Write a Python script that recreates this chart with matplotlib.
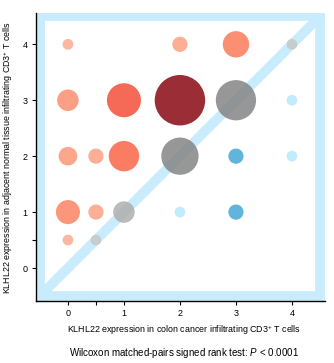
import matplotlib
matplotlib.use('Agg')
import matplotlib.pyplot as plt
from matplotlib.colors import to_rgb

# paired scores per patient: cancer-infiltrating vs adjacent normal tissue
cancer = [0, 2, 3, 4,
          0, 1, 2, 3, 4,
          0, 0.5, 1, 2, 3, 4,
          0, 0.5, 1, 2, 3,
          0, 0.5]
normal = [4, 4, 4, 4,
          3, 3, 3, 3, 3,
          2, 2, 2, 2, 2, 2,
          1, 1, 1, 1, 1,
          0.5, 0.5]
counts = [1, 2, 6, 1,
          4, 10, 22, 14, 1,
          3, 2, 8, 12, 2, 1,
          5, 2, 4, 1, 2,
          1, 1]

xticks = [0, 0.5, 1, 2, 3, 4]
xticklabels = ['0', '', '1', '2', '3', '4']
yticks = [0, 0.5, 1, 2, 3, 4]
yticklabels = ['0', '', '1', '2', '3', '4']

FONT = ['Liberation Sans', 'DejaVu Sans']
plt.rcParams['font.family'] = FONT
plt.rcParams['mathtext.fontset'] = 'custom'
plt.rcParams['mathtext.rm'] = 'Liberation Sans'
plt.rcParams['mathtext.it'] = 'Liberation Sans:italic'

frame_blue = '#c8ecfb'
blue_lo, blue_hi = to_rgb('#b7e9fc'), to_rgb('#45a7d6')


def point_colour(x, y, n):
    # higher in normal tissue -> reds, equal -> greys, lower -> blues
    if y > x:
        return plt.cm.Reds(0.27 + 0.03 * n)
    if y == x:
        return plt.cm.Greys(min(0.3 + 0.03 * n, 0.56))
    t = min((n - 1) / 1.0, 1.0)
    return tuple(a + (b - a) * t for a, b in zip(blue_lo, blue_hi))


fig = plt.figure(figsize=(3.34, 3.63), dpi=100)
ax = fig.add_axes([36 / 334, 1 - 301 / 363, 289 / 334, 288 / 363])

# thick light-blue box and identity line
ax.plot([-0.5, 4.5, 4.5, -0.5, -0.5], [-0.5, -0.5, 4.5, 4.5, -0.5],
        color=frame_blue, lw=7, solid_joinstyle='miter', zorder=1)
ax.plot([-0.5, 4.5], [-0.5, 4.5], color=frame_blue, lw=7, zorder=1)

colours = [point_colour(x, y, n) for x, y, n in zip(cancer, normal, counts)]
ax.scatter(cancer, normal, s=[60 * n for n in counts], c=colours,
           alpha=0.85, linewidths=0, zorder=3)

ax.set_xlim(-0.57, 4.59)
ax.set_ylim(-0.59, 4.56)
ax.set_xticks(xticks)
ax.set_xticklabels(xticklabels)
ax.set_yticks(yticks)
ax.set_yticklabels(yticklabels)
ax.tick_params(labelsize=6.5, length=3, width=0.8, pad=3)
for side in ['top', 'right']:
    ax.spines[side].set_visible(False)
for side in ['left', 'bottom']:
    ax.spines[side].set_linewidth(1.0)

fig.text(184 / 334, 1 - 330 / 363,
         'KLHL22 expression in colon cancer infiltrating CD3$^{+}$ T cells',
         ha='center', va='center', fontsize=6.4)
fig.text(8 / 334, 1 - 158 / 363,
         'KLHL22 expression in adjacent normal tissue infiltrating CD3$^{+}$ T cells',
         ha='center', va='center', rotation=90, fontsize=6.4)
fig.text(184 / 334, 1 - 353 / 363,
         'Wilcoxon matched-pairs signed rank test: $P$ < 0.0001',
         ha='center', va='center', fontsize=7.0)

fig.savefig('out.png', dpi=100)
